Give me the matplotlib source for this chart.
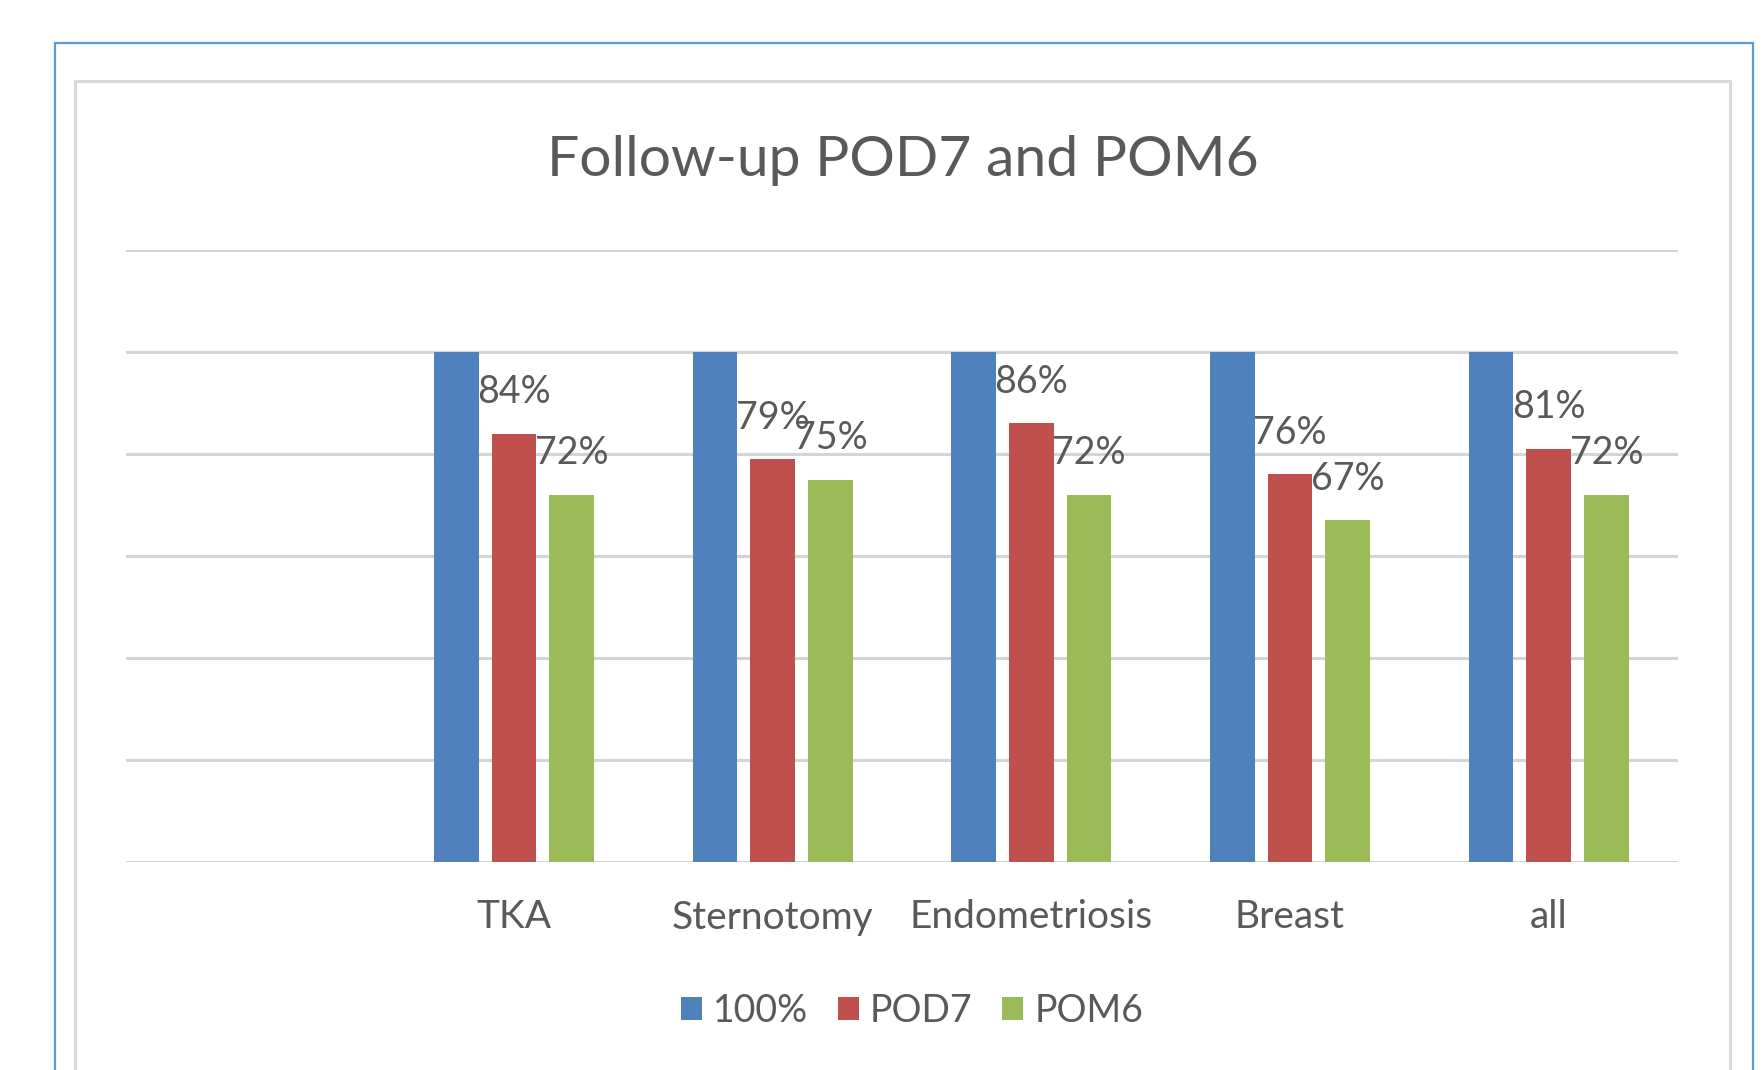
import matplotlib.pyplot as plt
import matplotlib.patches as patches
import numpy as np

categories = ["TKA", "Sternotomy", "Endometriosis", "Breast", "all"]
series_names = ["100%", "POD7", "POM6"]
full = [1.00, 1.00, 1.00, 1.00, 1.00]
pod7 = [0.84, 0.79, 0.86, 0.76, 0.81]
pom6 = [0.72, 0.75, 0.72, 0.67, 0.72]
colors = ["#4F81BD", "#C0504D", "#9BBB59"]
txt = "#595959"

plt.rcParams['font.family'] = ['Lato', 'DejaVu Sans']

W, H = 1763, 1070
fig = plt.figure(figsize=(W / 100, H / 100), dpi=100)

# outer blue frame and grey chart border
fig.patches.append(patches.Rectangle((55 / W, -0.1), 1698 / W, 1.1 - 43 / H,
                                     transform=fig.transFigure, fill=False,
                                     edgecolor="#5B9BD5", linewidth=1.6))
fig.patches.append(patches.Rectangle((75 / W, -0.1), 1655 / W, 1.1 - 81 / H,
                                     transform=fig.transFigure, fill=False,
                                     edgecolor="#D9D9D9", linewidth=2.2))

ax = fig.add_axes([126 / W, 208 / H, 1552 / W, 612 / H])

x = np.arange(len(categories))
width = 0.172
step = 0.223
for i, (vals, c, name) in enumerate(zip([full, pod7, pom6], colors, series_names)):
    ax.bar(x + (i - 1) * step, vals, width, color=c, label=name, zorder=3)
    if i == 0:
        continue
    for xi, v in zip(x + (i - 1) * step, vals):
        ax.annotate(f"{v:.0%}", (xi, v), xytext=(0, 22), textcoords="offset points",
                    ha="center", va="baseline", fontsize=27, color=txt, zorder=4)

ax.set_xlim(-1.5, 4.5)
ax.set_ylim(0, 1.2)
ax.set_yticks(np.arange(0, 1.21, 0.2))
ax.set_yticklabels([])
ax.set_xticks(x)
ax.set_xticklabels(categories, fontsize=28, color=txt)
ax.tick_params(length=0)
ax.tick_params(axis="x", pad=27)
ax.yaxis.grid(True, color="#D5D5D5", linewidth=2.2)
ax.set_axisbelow(True)
for s in ax.spines.values():
    s.set_visible(False)

fig.text(903 / W, 1 - 160 / H, "Follow-up POD7 and POM6", ha="center", va="center",
         fontsize=41, color=txt)

fig.legend(loc="center", bbox_to_anchor=(912 / W, 1 - 1011 / H), ncol=3, frameon=False,
           fontsize=27, labelcolor=txt, handlelength=0.55, handleheight=0.55,
           handletextpad=0.3, columnspacing=0.8)

fig.savefig("out.png", dpi=100)
